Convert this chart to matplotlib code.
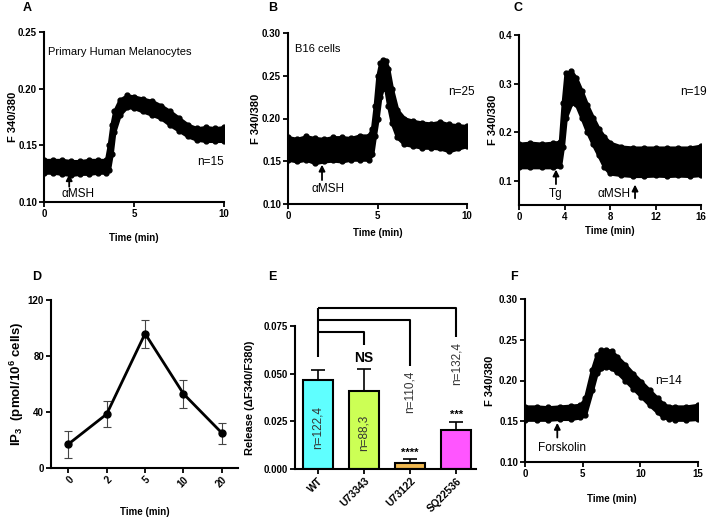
import matplotlib
import matplotlib.pyplot as plt

matplotlib.use("Agg")

plt.rcParams["font.family"] = ["Liberation Sans", "DejaVu Sans"]
plt.rcParams["mathtext.fontset"] = "custom"
plt.rcParams["mathtext.bf"] = "Liberation Sans:bold"
plt.rcParams["mathtext.rm"] = "Liberation Sans"

W, H = 709, 518

# ---- panel A: primary human melanocytes, aMSH
a_time = [0, 0.5, 1, 1.5, 2, 2.5, 3, 3.45, 3.6, 3.75, 3.9, 4.2, 4.6, 5.0, 5.5, 6.0, 6.5, 7.0, 7.5, 8.0, 8.5, 9.0, 9.5, 10]
a_upper = [.137, .137, .137, .136, .136, .137, .137, .137, .150, .168, .180, .190, .194, .193, .191, .189, .185, .180, .174, .168, .165, .166, .165, .166]
a_lower = [.126, .126, .125, .124, .125, .125, .126, .126, .128, .142, .162, .177, .184, .183, .180, .177, .174, .168, .163, .158, .155, .154, .154, .154]

# ---- panel B: B16 cells, aMSH
b_time = [0, 0.5, 1, 1.5, 2, 2.5, 3, 3.5, 4, 4.5, 4.7, 4.85, 5.0, 5.15, 5.3, 5.45, 5.6, 5.8, 6.1, 6.5, 7, 7.5, 8, 8.5, 9, 9.5, 10]
b_upper = [.178, .176, .179, .177, .176, .178, .178, .177, .180, .180, .188, .215, .250, .265, .269, .267, .258, .235, .210, .200, .197, .195, .194, .196, .193, .192, .191]
b_lower = [.152, .150, .152, .148, .150, .151, .150, .152, .152, .152, .158, .180, .200, .225, .236, .234, .215, .195, .178, .170, .168, .166, .166, .165, .162, .165, .168]

# ---- panel C: thapsigargin then aMSH
c_time = [0, 1, 2, 3, 3.6, 3.85, 4.1, 4.6, 5.0, 5.5, 6.0, 6.5, 7.0, 7.5, 8.0, 9, 10, 11, 12, 13, 14, 15, 16]
c_upper = [.176, .178, .176, .178, .180, .260, .322, .325, .312, .285, .255, .230, .207, .190, .178, .170, .168, .168, .168, .168, .168, .168, .172]
c_lower = [.128, .128, .128, .128, .130, .170, .230, .260, .258, .230, .200, .175, .152, .128, .115, .112, .110, .110, .111, .110, .111, .110, .112]

# ---- panel D: IP3
d_time = ["0", "2", "5", "10", "20"]
d_ip3 = [17, 38.5, 96, 53, 25]
d_err = [9.5, 9.5, 10, 10, 7.5]

# ---- panel E: release
e_groups = ["WT", "U73343", "U73122", "SQ22536"]
e_release = [0.0467, 0.041, 0.0031, 0.0204]
e_err = [0.0053, 0.0115, 0.0021, 0.0042]
e_n = ["n=122,4", "n=88,3", "n=110,4", "n=132,4"]
e_stars = ["", "NS", "****", "***"]
e_colors = ["#5FFFFF", "#CCFF55", "#F0B850", "#FF55FF"]

# ---- panel F: forskolin
f_time = [0, 1, 2, 3, 4, 4.8, 5.2, 5.8, 6.2, 6.6, 7.0, 7.5, 8.0, 8.7, 9.4, 10.1, 10.8, 11.5, 12.0, 12.5, 13, 14, 15]
f_upper = [.168, .168, .167, .168, .169, .170, .178, .213, .231, .237, .238, .236, .229, .219, .208, .198, .188, .178, .171, .168, .168, .168, .170]
f_lower = [.152, .152, .152, .153, .153, .155, .158, .188, .209, .215, .217, .215, .210, .200, .190, .180, .170, .161, .155, .153, .152, .152, .153]


def add_ax(fig, left, top, right, bottom):
    return fig.add_axes([left / W, 1 - bottom / H, (right - left) / W, (bottom - top) / H])


def style(ax, xsize=7):
    for s in ["top", "right"]:
        ax.spines[s].set_visible(False)
    for s in ["left", "bottom"]:
        ax.spines[s].set_linewidth(1.5)
    ax.tick_params(direction="out", length=3.5, width=1.3, labelsize=7, pad=1.5)
    ax.tick_params(axis="x", labelsize=xsize)
    for lab in ax.get_xticklabels() + ax.get_yticklabels():
        lab.set_fontweight("bold")


def labels(ax, ylabel, ypos, xpos=None, ysize=8):
    ax.set_ylabel(ylabel, fontsize=ysize, fontweight="bold", va="center")
    ax.yaxis.set_label_coords(ypos, 0.5)
    if xpos is not None:
        ax.set_xlabel("Time (min)", fontsize=7, fontweight="bold", va="center")
        ax.xaxis.set_label_coords(0.5, xpos)


def trace(ax, t, lo, hi):
    ax.fill_between(t, lo, hi, color="black", lw=2.5, edgecolor="black", joinstyle="round")
    ax.plot(t, hi, "o", color="black", ms=3.5)
    ax.plot(t, lo, "o", color="black", ms=3.5)


def up_arrow(ax, x, y0, y1):
    ax.annotate("", xy=(x, y1), xytext=(x, y0),
                arrowprops=dict(arrowstyle="-|>", color="black", lw=1.3, mutation_scale=9,
                                shrinkA=0, shrinkB=0), zorder=5)


fig = plt.figure(figsize=(W / 100, H / 100), dpi=100)
fig.patch.set_facecolor("white")

# A
ax = add_ax(fig, 44, 32, 224, 202)
trace(ax, a_time, a_lower, a_upper)
ax.set_xlim(0, 10)
ax.set_ylim(0.10, 0.25)
ax.set_xticks([0, 5, 10])
ax.set_yticks([0.10, 0.15, 0.20, 0.25])
ax.set_yticklabels(["0.10", "0.15", "0.20", "0.25"])
style(ax)
labels(ax, "F 340/380", -0.175, -0.21)
ax.text(0.22, 0.232, "Primary Human Melanocytes", fontsize=8, va="center")
ax.text(10, 0.135, "n=15", fontsize=8.5, ha="right", va="center")
up_arrow(ax, 1.4, 0.1135, 0.1245)
ax.text(1.9, 0.107, "αMSH", fontsize=8.5, ha="center", va="center")
fig.text(23 / W, 1 - 8 / H, "A", fontsize=9, fontweight="bold", va="center")

# B
ax = add_ax(fig, 288, 33, 467, 204)
trace(ax, b_time, b_lower, b_upper)
ax.set_xlim(0, 10)
ax.set_ylim(0.10, 0.30)
ax.set_xticks([0, 5, 10])
ax.set_yticks([0.10, 0.15, 0.20, 0.25, 0.30])
ax.set_yticklabels(["0.10", "0.15", "0.20", "0.25", "0.30"])
style(ax)
labels(ax, "F 340/380", -0.18, -0.17)
ax.text(0.4, 0.281, "B16 cells", fontsize=8, va="center")
ax.text(10.45, 0.231, "n=25", fontsize=8.5, ha="right", va="center")
up_arrow(ax, 1.9, 0.128, 0.146)
ax.text(2.25, 0.118, "αMSH", fontsize=8.5, ha="center", va="center")
fig.text(268 / W, 1 - 8 / H, "B", fontsize=9, fontweight="bold", va="center")

# C
ax = add_ax(fig, 519, 35, 701, 205)
trace(ax, c_time, c_lower, c_upper)
ax.set_xlim(0, 16)
ax.set_ylim(0.05, 0.40)
ax.set_xticks([0, 4, 8, 12, 16])
ax.set_yticks([0.1, 0.2, 0.3, 0.4])
ax.set_yticklabels(["0.1", "0.2", "0.3", "0.4"])
style(ax)
labels(ax, "F 340/380", -0.145, -0.15)
ax.text(16.5, 0.282, "n=19", fontsize=8.5, ha="right", va="center")
up_arrow(ax, 3.25, 0.093, 0.123)
ax.text(3.25, 0.073, "Tg", fontsize=8.5, ha="center", va="center")
up_arrow(ax, 10.2, 0.064, 0.092)
ax.text(9.8, 0.073, "αMSH", fontsize=8.5, ha="right", va="center")
fig.text(513 / W, 1 - 8 / H, "C", fontsize=9, fontweight="bold", va="center")

# D
ax = add_ax(fig, 51, 300, 238, 468)
xpos = list(range(len(d_time)))
ax.errorbar(xpos, d_ip3, yerr=d_err, fmt="none", ecolor="#444444", elinewidth=0.8, capsize=3, capthick=0.8)
ax.plot(xpos, d_ip3, "-o", color="black", lw=2, ms=5)
ax.set_xlim(-0.45, 4.42)
ax.set_ylim(0, 120)
ax.set_xticks(xpos)
ax.set_xticklabels(d_time, rotation=45, ha="right", rotation_mode="anchor")
ax.set_yticks([0, 40, 80, 120])
style(ax)
labels(ax, r"IP$_\mathbf{3}$  (pmol/10$^\mathbf{6}$ cells)", -0.18, -0.26, ysize=9.5)
fig.text(32 / W, 1 - 277 / H, "D", fontsize=9, fontweight="bold", va="center")

# E
ax = add_ax(fig, 295, 326, 476, 469)
epos = list(range(len(e_groups)))
ax.bar(epos, e_release, width=0.65, color=e_colors, edgecolor="black", linewidth=1.5, zorder=2)
ax.errorbar(epos, e_release, yerr=[[0] * len(e_err), e_err], fmt="none", ecolor="black",
            elinewidth=1.2, capsize=5, capthick=1.2, zorder=1)
ax.set_xlim(-0.5, 3.43)
ax.set_ylim(0, 0.075)
ax.set_xticks(epos)
ax.set_xticklabels(e_groups, rotation=45, ha="right", rotation_mode="anchor")
ax.set_yticks([0, 0.025, 0.05, 0.075])
ax.set_yticklabels(["0.000", "0.025", "0.050", "0.075"])
style(ax, xsize=7.5)
labels(ax, "Release (ΔF340/F380)", -0.25)

# comparison brackets
bkw = dict(color="black", lw=1.5, clip_on=False, solid_capstyle="butt")
ax.plot([0, 0], [0.0587, 0.0844], **bkw)
ax.plot([0, 3, 3], [0.0844, 0.0844, 0.069], **bkw)
ax.plot([0, 2, 2], [0.078, 0.078, 0.054], **bkw)
ax.plot([0, 1, 1], [0.072, 0.072, 0.065], **bkw)

ntext = dict(rotation=90, fontsize=8.5, ha="center", color="#333333")
ax.text(0, 0.022, e_n[0], va="center", **ntext)
ax.text(1, 0.019, e_n[1], va="center", **ntext)
ax.text(2, 0.0515, e_n[2], va="top", **ntext)
ax.text(3, 0.0665, e_n[3], va="top", **ntext)
ax.text(1, 0.0582, e_stars[1], fontsize=10, fontweight="bold", ha="center", va="center")
ax.text(2, 0.0084, e_stars[2], fontsize=8, fontweight="bold", ha="center", va="center")
ax.text(3, 0.0285, e_stars[3], fontsize=8, fontweight="bold", ha="center", va="center")
fig.text(268 / W, 1 - 277 / H, "E", fontsize=9, fontweight="bold", va="center")

# F
ax = add_ax(fig, 525, 299, 698, 462)
trace(ax, f_time, f_lower, f_upper)
ax.set_xlim(0, 15)
ax.set_ylim(0.10, 0.30)
ax.set_xticks([0, 5, 10, 15])
ax.set_yticks([0.10, 0.15, 0.20, 0.25, 0.30])
ax.set_yticklabels(["0.10", "0.15", "0.20", "0.25", "0.30"])
style(ax)
labels(ax, "F 340/380", -0.2, -0.23)
ax.text(11.3, 0.2, "n=14", fontsize=8.5, va="center")
up_arrow(ax, 2.8, 0.130, 0.148)
ax.text(3.2, 0.117, "Forskolin", fontsize=8.5, ha="center", va="center")
fig.text(510 / W, 1 - 277 / H, "F", fontsize=9, fontweight="bold", va="center")

fig.savefig("out.png", dpi=100, facecolor="white")
